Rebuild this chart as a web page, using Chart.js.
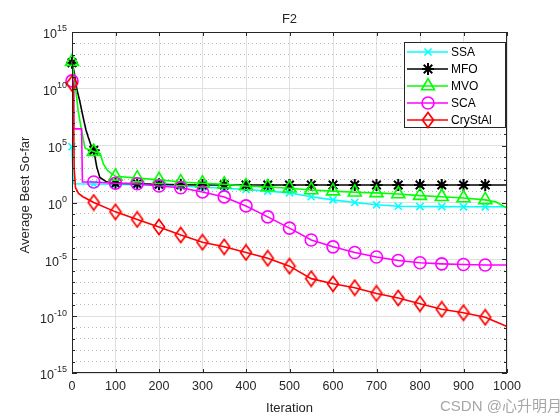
<!DOCTYPE html>
<html>
<head>
<meta charset="utf-8">
<script src="https://cdn.jsdelivr.net/npm/chart.js"></script>
<style>
  body { margin: 0; background: #fff; }
</style>
</head>
<body>
<canvas id="chart" width="560" height="420"></canvas>
<script>
// --- data (iteration, best value) ---
const seriesNames = ['SSA', 'MFO', 'MVO', 'SCA', 'CryStAl'];

const ssaIter = [0, 2, 3, 50, 100, 150, 200, 250, 300, 350, 400, 450, 500, 550, 600, 650, 700, 750, 800, 850, 900, 950, 1000];
const ssaVals = [8e4, 8e4, 45, 42, 40, 35, 32, 28, 22, 18, 14, 10, 7, 3.2, 1.7, 1.0, 0.63, 0.47, 0.44, 0.43, 0.42, 0.42, 0.42];

const mfoIter = [0, 5, 11, 18, 25, 32, 37, 44, 50, 57, 64, 80, 100, 150, 200, 250, 300, 350, 400, 450, 500, 550, 600, 650, 700, 750, 800, 850, 900, 950, 1000];
const mfoVals = [2e12, 3e11, 1e10, 8e8, 4e7, 2.5e6, 6e5, 1e5, 4e4, 1.3e3, 160, 63, 50, 45, 40, 36, 35, 35, 35, 35, 35, 35, 35, 35, 35, 35, 35, 35, 35, 35, 35];

const mvoIter = [0, 7, 14, 23, 30, 50, 65, 72, 82, 100, 150, 200, 250, 300, 350, 400, 450, 500, 550, 600, 650, 700, 750, 800, 850, 900, 950, 975, 1000];
const mvoVals = [2.5e12, 3e10, 1.3e8, 1.3e6, 6e4, 3e4, 2e4, 2.5e3, 630, 200, 140, 100, 63, 50, 40, 28, 23, 18, 12.6, 10, 8, 7, 5.6, 4, 3.2, 2.5, 1.7, 1.1, 0.32];

const scaIter = [0, 3, 4, 22, 24, 50, 100, 150, 200, 250, 300, 350, 400, 450, 500, 550, 600, 650, 700, 750, 800, 850, 900, 950, 1000];
const scaVals = [5e10, 5e10, 3e6, 3e6, 63, 63, 50, 45, 28, 20, 8.5, 3.1, 0.5, 0.054, 5.6e-3, 5e-4, 1.26e-4, 4e-5, 1.6e-5, 8e-6, 5e-6, 4e-6, 3.5e-6, 3.2e-6, 3.2e-6];

const crysIter = [0, 3, 5, 8, 15, 25, 50, 100, 150, 200, 250, 300, 350, 400, 450, 500, 550, 600, 650, 700, 750, 800, 850, 900, 950, 1000];
const crysVals = [3e10, 3e10, 1e3, 20, 6.3, 3.2, 1, 0.15, 0.032, 7e-3, 1.4e-3, 3.2e-4, 1.26e-4, 4e-5, 1.26e-5, 2.5e-6, 2e-7, 7e-8, 3.2e-8, 1e-8, 4e-9, 1.26e-9, 4e-10, 2e-10, 8e-11, 1.26e-11];

const xTicks = [0, 100, 200, 300, 400, 500, 600, 700, 800, 900, 1000];
const yTickExponents = [-15, -10, -5, 0, 5, 10, 15];

const colors = ['#00ffff', '#000000', '#00ff00', '#ff00ff', '#ff0000'];
const markerSize = [5, 6, 7.5, 6, 6.5];

const FONT = '"Liberation Sans", Arial, sans-serif';

// MATLAB's diamond is taller than wide, so draw it on a small canvas
function tallDiamond(color) {
    const c = document.createElement('canvas');
    c.width = 14; c.height = 18;
    const g = c.getContext('2d');
    g.strokeStyle = color;
    g.lineWidth = 1.7;
    g.beginPath();
    g.moveTo(7, 1.5); g.lineTo(12.5, 9); g.lineTo(7, 16.5); g.lineTo(1.5, 9);
    g.closePath();
    g.stroke();
    return c;
}

const markers = ['crossRot', 'star', 'triangle', 'circle', tallDiamond(colors[4])];

function toPoints(xs, ys) {
    return xs.map((x, i) => ({ x: x, y: ys[i] }));
}

const allIters = [ssaIter, mfoIter, mvoIter, scaIter, crysIter];
const allVals = [ssaVals, mfoVals, mvoVals, scaVals, crysVals];

const datasets = seriesNames.map((name, i) => ({
    label: name,
    data: toPoints(allIters[i], allVals[i]),
    borderColor: colors[i],
    borderWidth: 1.6,
    pointStyle: markers[i],
    pointRadius: ctx => (ctx.raw && ctx.raw.x % 50 === 0 && ctx.raw.x < 1000) ? markerSize[i] : 0,
    pointBorderColor: colors[i],
    pointBackgroundColor: 'rgba(0,0,0,0)',
    pointBorderWidth: i === 1 ? 2 : 1.6,
    tension: 0,
    clip: false,
    order: seriesNames.length - i
}));

const matlabAxes = {
    id: 'matlabAxes',
    afterDraw(chart) {
        const ctx = chart.ctx;
        const a = chart.chartArea;
        const xs = chart.scales.x;
        const ys = chart.scales.y;
        ctx.save();

        // box
        ctx.strokeStyle = '#262626';
        ctx.lineWidth = 1;
        ctx.strokeRect(a.left + 0.5, a.top + 0.5, a.right - a.left - 1, a.bottom - a.top - 1);

        // x ticks (inward, bottom & top)
        ctx.beginPath();
        xTicks.forEach(v => {
            const px = Math.round(xs.getPixelForValue(v)) + 0.5;
            ctx.moveTo(px, a.bottom); ctx.lineTo(px, a.bottom - 4);
            ctx.moveTo(px, a.top); ctx.lineTo(px, a.top + 4);
        });
        // y ticks every decade (inward, left & right)
        for (let e = yTickExponents[0]; e <= yTickExponents[yTickExponents.length - 1]; e++) {
            const py = Math.round(ys.getPixelForValue(Math.pow(10, e))) + 0.5;
            const len = yTickExponents.includes(e) ? 5 : 3;
            ctx.moveTo(a.left, py); ctx.lineTo(a.left + len, py);
            ctx.moveTo(a.right, py); ctx.lineTo(a.right - len, py);
        }
        ctx.stroke();

        // x tick labels
        ctx.fillStyle = '#262626';
        ctx.font = '12.5px ' + FONT;
        ctx.textAlign = 'center';
        ctx.textBaseline = 'middle';
        xTicks.forEach(v => ctx.fillText(String(v), xs.getPixelForValue(v), a.bottom + 14));

        // y tick labels with superscript exponents
        yTickExponents.forEach(e => {
            const py = ys.getPixelForValue(Math.pow(10, e));
            const expText = String(e);
            ctx.font = '9px ' + FONT;
            const expW = ctx.measureText(expText).width;
            const right = a.left - 5;
            ctx.textAlign = 'left';
            ctx.fillText(expText, right - expW, py - 3);
            ctx.font = '12.5px ' + FONT;
            ctx.textAlign = 'right';
            ctx.fillText('10', right - expW, py + 3);
        });

        // title and axis titles
        ctx.font = '13px ' + FONT;
        ctx.textAlign = 'center';
        ctx.fillText('F2', (a.left + a.right) / 2, 19);
        ctx.fillText('Iteration', (a.left + a.right) / 2, 408);
        ctx.save();
        ctx.translate(25, 195);
        ctx.rotate(-Math.PI / 2);
        ctx.fillText('Average Best So-far', 0, 0);
        ctx.restore();

        // legend
        const lx = 404, ly = 42, lw = 101, lh = 85;
        ctx.fillStyle = '#fff';
        ctx.fillRect(lx, ly, lw, lh);
        ctx.strokeStyle = '#262626';
        ctx.lineWidth = 1;
        ctx.strokeRect(lx + 0.5, ly + 0.5, lw, lh);
        seriesNames.forEach((name, i) => {
            const y = ly + 10 + i * 17;
            ctx.strokeStyle = colors[i];
            ctx.lineWidth = 1.6;
            ctx.beginPath();
            ctx.moveTo(407, y); ctx.lineTo(448, y);
            ctx.stroke();
            ctx.lineWidth = i === 1 ? 2 : 1.6;
            ctx.fillStyle = 'rgba(0,0,0,0)';
            Chart.helpers.drawPoint(ctx, {
                pointStyle: markers[i], rotation: 0, radius: markerSize[i],
                borderWidth: ctx.lineWidth
            }, 428, y);
            ctx.fillStyle = '#000';
            ctx.font = '12px ' + FONT;
            ctx.textAlign = 'left';
            ctx.textBaseline = 'middle';
            ctx.fillText(name, 451, y + 1);
        });

        // watermark
        ctx.fillStyle = 'rgba(150,150,150,0.85)';
        ctx.font = '15px "Liberation Sans", "Noto Sans CJK SC", sans-serif';
        ctx.textAlign = 'left';
        ctx.fillText('CSDN @心升明月', 440, 407);

        ctx.restore();
    }
};

new Chart(document.getElementById('chart'), {
    type: 'line',
    data: { datasets: datasets },
    options: {
        responsive: false,
        animation: false,
        events: [],
        layout: { padding: { top: 32, right: 53, left: 0, bottom: 0 } },
        plugins: {
            legend: { display: false },
            tooltip: { enabled: false },
            title: { display: false }
        },
        scales: {
            x: {
                type: 'linear',
                min: 0,
                max: 1000,
                ticks: { display: false, stepSize: 100 },
                grid: { color: '#e0e0e0', drawTicks: false, lineWidth: 1 },
                border: { display: false },
                afterFit: s => { s.height = 47; }
            },
            y: {
                type: 'logarithmic',
                min: 1e-15,
                max: 1e15,
                ticks: { display: false },
                afterBuildTicks: s => {
                    const t = [];
                    for (let e = yTickExponents[0]; e <= yTickExponents[yTickExponents.length - 1]; e++) {
                        t.push({ value: Math.pow(10, e) });
                    }
                    s.ticks = t;
                },
                grid: {
                    drawTicks: false,
                    lineWidth: 1,
                    color: c => (c.tick && yTickExponents.includes(Math.round(Math.log10(c.tick.value)))) ? '#e0e0e0' : '#b8b8b8'
                },
                border: {
                    display: false,
                    dash: c => (c.tick && !yTickExponents.includes(Math.round(Math.log10(c.tick.value)))) ? [1, 3] : []
                },
                afterFit: s => { s.width = 72; }
            }
        }
    },
    plugins: [matlabAxes]
});
</script>
</body>
</html>
